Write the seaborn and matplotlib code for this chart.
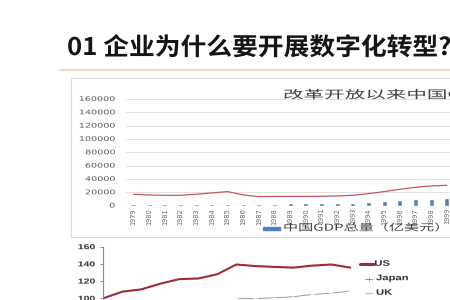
import numpy as np
import pandas as pd
import matplotlib
matplotlib.use("Agg")
import matplotlib.pyplot as plt
from matplotlib.lines import Line2D
from matplotlib.patches import Rectangle
from matplotlib.patheffects import AbstractPathEffect
from matplotlib.transforms import Affine2D
import seaborn as sns

# ---------------- data ----------------
years = [1979, 1980, 1981, 1982, 1983, 1984, 1985, 1986, 1987, 1988, 1989,
         1990, 1991, 1992, 1993, 1994, 1995, 1996, 1997, 1998, 1999]
gdp_total = [1783, 1911, 1960, 2051, 2306, 2599, 3094, 3007, 2729, 3123, 3477,
             3609, 3834, 4269, 4447, 5643, 7345, 8637, 9616, 10290, 10940]
red_line = [17000, 16000, 15500, 15500, 17000, 19000, 21000, 16000, 13500, 13800, 13800,
            13800, 14000, 14500, 15500, 18000, 21000, 24500, 27500, 29500, 30500]
top_yticks = [0, 20000, 40000, 60000, 80000, 100000, 120000, 140000, 160000]

idx = list(range(14))
us_vals = [100, 107.7, 110.4, 117, 122.3, 123, 128, 139.3, 137.5, 136.5, 135.7, 138, 139.3, 135.7]
japan_vals = [np.nan] * 7 + [100, 99.8, 100.5, 101.8, 104.5, 105.8, 108.4]
bottom_yticks = [100, 120, 140, 160]

title = "01 企业为什么要开展数字化转型?"
chart_title = "改革开放以来中国GDP总量"
bar_label = "中国GDP总量（亿美元）"
legend_labels = ["US", "Japan", "UK"]

# ---------------- style ----------------
sns.set_style("white")
CJK = ["Noto Sans CJK SC", "DejaVu Sans"]
plt.rcParams["font.family"] = CJK


class Stretch(AbstractPathEffect):
    """Horizontal stretch of a text's glyphs (the reference text is widened)."""
    def __init__(self, sx, anchor="left"):
        super().__init__()
        self.sx = sx
        self.anchor = anchor

    def draw_path(self, renderer, gc, tpath, affine, rgbFace=None):
        w = tpath.get_extents().x1
        shift = {"left": 0.0, "right": -(self.sx - 1) * w,
                 "center": -(self.sx - 1) * w / 2}[self.anchor]
        t = Affine2D().scale(self.sx, 1).translate(shift, 0) + affine
        renderer.draw_path(gc, tpath, t, rgbFace)


W, H = 450, 300
fig = plt.figure(figsize=(4.5, 3), dpi=100)
fig.patch.set_facecolor("white")

def fx(x):
    return x / W

def fy(y):
    return 1 - y / H

# ---------------- header ----------------
fig.text(fx(67), fy(55), title, fontsize=17.5, fontweight="bold", color="#151515",
         ha="left", va="baseline", family=CJK, path_effects=[Stretch(1.06)])
fig.add_artist(Line2D([fx(60), 1.0], [fy(69.7), fy(69.7)], color="#ecd8c4", lw=1.6,
                      transform=fig.transFigure))

# frame of the upper chart
fig.add_artist(Rectangle((fx(71), fy(236.5)), fx(470) - fx(71), (236.5 - 78) / H,
                         fill=False, edgecolor="#dadada", lw=0.8, transform=fig.transFigure))

# ---------------- upper chart ----------------
pitch = 15.67
x0 = 133.5 - pitch / 2
ax1 = fig.add_axes([fx(x0), fy(205.6), len(years) * pitch / W, (205.6 - 99) / H])
df_top = pd.DataFrame({"year": years, "gdp": gdp_total, "line": red_line})
sns.barplot(data=df_top, x="year", y="gdp", native_scale=True, color="#4f81bd",
            saturation=1, width=0.32, errorbar=None, ax=ax1)
sns.lineplot(data=df_top, x="year", y="line", color="#c9575f", lw=0.9, ax=ax1)
ax1.set_xlim(years[0] - 0.5, years[-1] + 0.5)
ax1.set_ylim(0, 160000)
ax1.set_yticks(top_yticks)
ax1.set_yticklabels([str(v) for v in top_yticks])
ax1.set_xticks(years)
ax1.set_xticklabels([str(y) for y in years], rotation=90)
ax1.grid(axis="y", color="#e4e4e4", lw=0.7)
ax1.set_axisbelow(True)
for s in ax1.spines.values():
    s.set_visible(False)
ax1.set_xlabel("")
ax1.set_ylabel("")
ax1.tick_params(axis="y", length=0, pad=7.7, labelsize=4.6, labelcolor="#5a5a5a")
ax1.tick_params(axis="x", length=0, pad=1.7, labelsize=4.8, labelcolor="#6a6a6a")
for lbl in ax1.get_yticklabels():
    lbl.set_fontfamily("DejaVu Sans")
    lbl.set_path_effects([Stretch(1.5, "right")])
for lbl in ax1.get_xticklabels():
    lbl.set_fontfamily("DejaVu Sans")

fig.text(fx(283), fy(95), chart_title, fontsize=8, color="#404040", ha="left", va="center",
         family=CJK, path_effects=[Stretch(1.85)])
fig.add_artist(Rectangle((fx(263), fy(229.7)), fx(17), 3.2 / H, color="#4f81bd",
                         transform=fig.transFigure))
fig.text(fx(283), fy(228), bar_label, fontsize=6.8, color="#404040", ha="left", va="center",
         family=CJK, path_effects=[Stretch(1.6)])

# ---------------- lower chart ----------------
p2 = 19.0
ax2 = fig.add_axes([fx(103.3), fy(315.5), 13.5 * p2 / W, (315.5 - 246.7) / H])
df_us = pd.DataFrame({"i": idx, "v": us_vals})
df_jp = pd.DataFrame({"i": idx, "v": japan_vals}).dropna()
sns.lineplot(data=df_us, x="i", y="v", color="#a02b35", lw=1.5, ax=ax2)
sns.lineplot(data=df_jp, x="i", y="v", color="#8c8c8c", lw=0.6, marker="+",
             markersize=2.5, markeredgewidth=0.6, ax=ax2)
ax2.set_xlim(0, 13.5)
ax2.set_ylim(80, 160)
ax2.set_yticks(bottom_yticks)
ax2.set_yticklabels([str(v) for v in bottom_yticks])
ax2.set_xticks([])
ax2.set_xlabel("")
ax2.set_ylabel("")
for side in ["top", "right"]:
    ax2.spines[side].set_visible(False)
ax2.spines["left"].set_color("#8a8a8a")
ax2.spines["left"].set_linewidth(0.8)
ax2.spines["bottom"].set_color("#8a8a8a")
ax2.tick_params(axis="y", length=2.2, width=0.7, color="#8a8a8a", pad=3.6,
                labelsize=5.2, labelcolor="#333333", left=True)
for lbl in ax2.get_yticklabels():
    lbl.set_fontfamily("Liberation Sans")
    lbl.set_fontweight("bold")
    lbl.set_path_effects([Stretch(1.45, "right")])

# manual legend for the lower chart
leg_rows = [(264.3, "#a02b35", 2.2, None), (278.7, "#8c8c8c", 0.6, "+"), (293.3, "#c3d46a", 1.0, None)]
for (yy, col, lw, mk), lab in zip(leg_rows, legend_labels):
    x_start = 360 if lab == "US" else 365
    x_end = 373.5 if lab == "US" else 372
    fig.add_artist(Line2D([fx(x_start), fx(x_end)], [fy(yy), fy(yy)], color=col, lw=lw,
                          transform=fig.transFigure))
    if mk:
        fig.add_artist(Line2D([fx(368.5)], [fy(yy)], color=col, marker=mk, markersize=2.5,
                              markeredgewidth=0.6, transform=fig.transFigure))
    fig.text(fx(374.3 if lab == "US" else 376), fy(yy), lab, fontsize=5.8, color="#333333",
             ha="left", va="center", family="Liberation Sans", fontweight="bold",
             path_effects=[Stretch(1.4)])

fig.savefig("out.png", dpi=100, facecolor="white")
